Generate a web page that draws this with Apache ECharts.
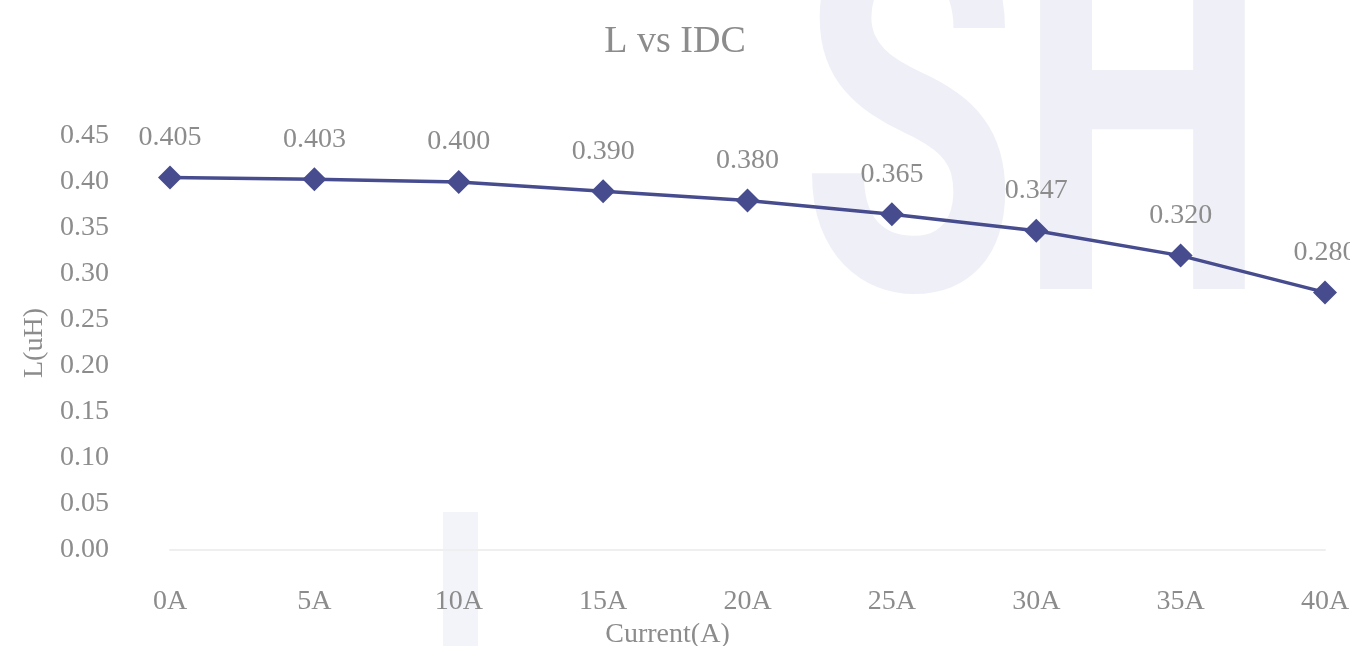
<!DOCTYPE html>
<html>
<head>
<meta charset="utf-8">
<script src="https://cdn.jsdelivr.net/npm/echarts@6/dist/echarts.min.js"></script>
<style>
  html, body { margin: 0; padding: 0; background: #fff; }
  #chart { width: 1350px; height: 646px; }
</style>
</head>
<body>
<div id="chart"></div>
<script>
  // 数据
  const categories = ['0A', '5A', '10A', '15A', '20A', '25A', '30A', '35A', '40A'];
  const inductance = [0.405, 0.403, 0.400, 0.390, 0.380, 0.365, 0.347, 0.320, 0.280];

  const grayText = '#8c8c8c';
  const fontFam = '"Liberation Serif", "DejaVu Serif", serif';

  const myChart = echarts.init(document.getElementById('chart'));
  myChart.setOption({
    backgroundColor: '#ffffff',
    // 背景水印
    graphic: [{
      type: 'text',
      x: 800,
      y: -101,
      scaleX: 0.68,
      z: -10,
      silent: true,
      style: {
        text: 'SH',
        fontSize: 520,
        fontWeight: 'bold',
        fontFamily: 'Roboto, sans-serif',
        fill: '#eff0f7'
      }
    }, {
      type: 'rect',
      z: -10,
      silent: true,
      shape: { x: 443, y: 512, width: 35, height: 134 },
      style: { fill: '#f3f4f9' }
    }],
    title: {
      text: 'L vs IDC',
      left: 'center',
      top: 18,
      textStyle: {
        color: grayText,
        fontSize: 38,
        fontWeight: 'normal',
        fontFamily: fontFam
      }
    },
    grid: {
      left: 170,
      right: 25,
      top: 136,
      bottom: 96,
      containLabel: false,
      outerBoundsMode: 'none'
    },
    xAxis: {
      type: 'category',
      data: categories,
      boundaryGap: false,
      name: 'Current(A)',
      nameLocation: 'middle',
      nameGap: 62,
      nameTextStyle: {
        color: grayText,
        fontSize: 28,
        fontFamily: fontFam,
        padding: [0, 160, 0, 0]
      },
      axisLine: { lineStyle: { color: '#efefef', width: 2 } },
      axisTick: { show: false },
      axisLabel: {
        color: grayText,
        fontSize: 28,
        fontFamily: fontFam,
        margin: 38
      },
      splitLine: { show: false }
    },
    yAxis: {
      type: 'value',
      min: 0,
      max: 0.45,
      interval: 0.05,
      name: 'L(uH)',
      nameLocation: 'middle',
      nameGap: 117,
      nameTextStyle: { color: grayText, fontSize: 28, fontFamily: fontFam },
      axisLine: { show: false },
      axisTick: { show: false },
      splitLine: { show: false },
      axisLabel: {
        color: grayText,
        fontSize: 28,
        fontFamily: fontFam,
        align: 'left',
        margin: 110,
        formatter: function (v) { return v.toFixed(2); }
      }
    },
    series: [{
      type: 'line',
      data: inductance,
      symbol: 'diamond',
      symbolSize: 24,
      lineStyle: { color: '#464c8e', width: 3.5 },
      itemStyle: { color: '#464c8e' },
      label: {
        show: true,
        position: 'top',
        distance: 14,
        color: grayText,
        fontSize: 28,
        fontFamily: fontFam,
        formatter: function (p) { return p.value.toFixed(3); }
      }
    }]
  });
</script>
</body>
</html>
